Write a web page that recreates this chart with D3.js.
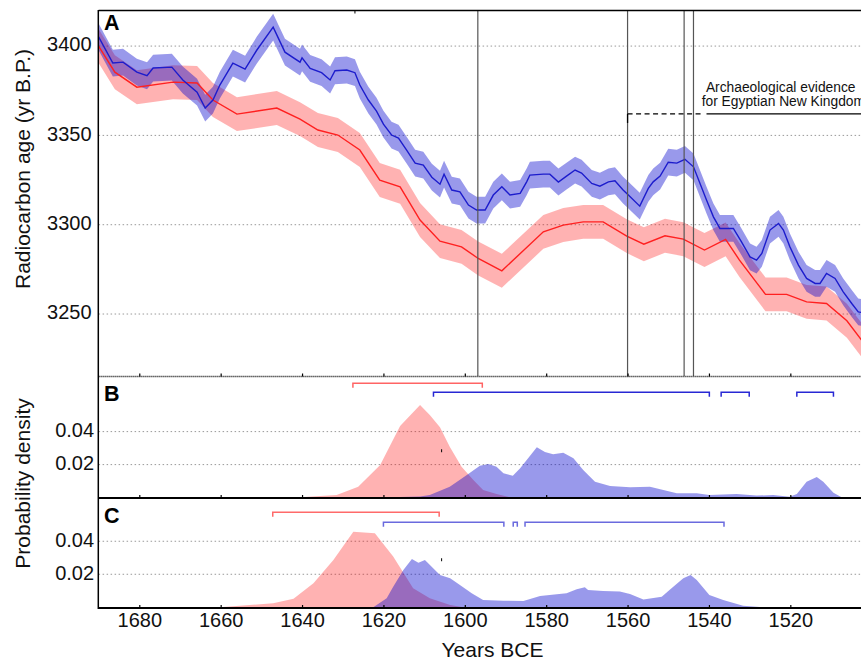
<!DOCTYPE html>
<html>
<head>
<meta charset="utf-8">
<script src="https://cdn.jsdelivr.net/npm/d3@7"></script>
<style>
body{margin:0;background:#fff;}
text{font-family:"Liberation Sans",Arial,sans-serif;fill:#111;}
</style>
</head>
<body>
<svg id="chart" width="861" height="659"></svg>
<script>

// ---- data (years BCE) ----
var blueAge = [[1690,3405.2],[1686.5,3390.5],[1684,3391],[1680.6,3385.4],[1678.1,3383.4],[1676.6,3387.7],
	[1672,3388.2],[1669.3,3381],[1665.8,3374.2],[1663.8,3365.3],[1661.9,3369.8],[1660.2,3378.2],[1657,3390.5],
	[1654,3387.1],[1651.1,3397.8],[1647.1,3410.6],[1644.2,3396.6],[1640.5,3391],[1640,3393.4],[1638,3387.5],
	[1635.2,3385.1],[1633.1,3381],[1631.9,3386.2],[1629,3386.6],[1627,3385.1],[1625.8,3378.2],[1623.7,3369.8],
	[1621.7,3363.6],[1620,3356.3],[1618,3350.2],[1616.3,3348.5],[1614.3,3341.8],[1612.2,3334.5],[1610.2,3333.4],
	[1608.1,3326.6],[1606.1,3322.7],[1605.1,3328.3],[1603.2,3319.4],[1601.2,3318.4],[1599.1,3311],[1597.1,3308.2],
	[1595,3308.2],[1593,3316.6],[1590.9,3321.2],[1588.9,3316.6],[1586.4,3317.5],[1584.8,3324],[1584,3327.8],
	[1580.7,3328.3],[1579.1,3328.3],[1577,3323.9],[1575,3327.2],[1572.9,3330.6],[1571.3,3328.9],[1568.8,3323.1],
	[1566.8,3321.6],[1564.7,3324],[1563.1,3324.6],[1561.1,3319.4],[1559.8,3316.6],[1557,3310.4],[1554.9,3320.3],
	[1553.7,3324],[1552,3327.2],[1550,3335],[1547.9,3334.5],[1545.9,3336.6],[1543.8,3332.4],[1540.6,3313.8],
	[1538.9,3304.4],[1537.3,3297.9],[1534,3297.9],[1532,3290.4],[1529.9,3282],[1528.3,3280.2],[1527,3283.9],
	[1525,3297],[1522.9,3300.7],[1521.7,3297],[1520.1,3287.6],[1518,3277.4],[1516,3269.9],[1513.9,3267.1],
	[1512.7,3267.1],[1511.1,3272.7],[1509,3269.9],[1507,3262.4],[1504.9,3255.9],[1503.3,3251.2],[1501.6,3250.5]];
var blueErr = 7.5;

var redAge = [[1690,3400],[1686,3385.4],[1680.6,3377],[1671.7,3379.8],[1665.8,3379.3],[1661.9,3369.8],
	[1656,3361.9],[1646.2,3365.3],[1640.5,3359.1],[1636.1,3353],[1631.2,3350.2],[1625.8,3341.8],[1620.9,3325],
	[1615.9,3321.2],[1611,3302.6],[1606.1,3290.8],[1600.8,3287.6],[1596.7,3281.1],[1590.9,3274.2],[1580.7,3296],
	[1575.8,3299.8],[1570.9,3301.6],[1566,3301.6],[1560.2,3293.6],[1556,3289.1],[1550.8,3293.8],[1546.3,3291.9],
	[1541.1,3285.8],[1535.9,3291.8],[1532.5,3280.2],[1526.1,3261],[1520.9,3261],[1516,3256.8],[1511.1,3255.9],
	[1506.1,3246.2],[1500,3228]];
var redErr = 9.5;

var densRedB = [[1657,0],[1640.5,0.0002],[1631.5,0.0016],[1626.2,0.0066],[1620.8,0.0198],[1615.9,0.0434],
	[1611,0.0561],[1608.6,0.0501],[1606.1,0.0426],[1603.7,0.0308],[1600.8,0.0187],[1597.9,0.0107],
	[1595.5,0.0046],[1592.2,0.0022],[1588.9,0.0002],[1586.4,0]];
var densBlueB = [[1620.8,0],[1615.9,0.0004],[1611,0.0007],[1608.6,0.0016],[1603.7,0.0066],[1599.5,0.0137],
	[1596.3,0.0193],[1594.2,0.0204],[1592.2,0.0187],[1590.5,0.0147],[1588.2,0.0133],[1586.4,0.0178],
	[1582.3,0.0305],[1580.3,0.0276],[1578.3,0.0262],[1575.8,0.0272],[1573.3,0.0238],[1570.9,0.0167],
	[1568,0.0096],[1564.3,0.007],[1559.4,0.0062],[1554.5,0.0066],[1547.9,0.0026],[1543,0.0026],[1539.9,0.0016],
	[1533.2,0.0022],[1528.3,0.0012],[1524.2,0.0016],[1520.2,0.0005],[1518.4,0.0022],[1516,0.0096],
	[1513.5,0.0125],[1511.9,0.0096],[1509.4,0.003],[1507.4,0.0002],[1505.3,0]];

var densRedC = [[1660.2,0],[1647.1,0.0024],[1642.1,0.0052],[1637.2,0.0145],[1632.3,0.0287],[1627.4,0.0458],
	[1622.1,0.0448],[1617.6,0.0307],[1612.7,0.0115],[1608.6,0.0055],[1603.6,0.0014],[1600.4,0]];
var densBlueC = [[1622.5,0],[1619.2,0.0055],[1617.6,0.0125],[1615.1,0.0226],[1613,0.0293],[1611.4,0.027],
	[1609.8,0.0287],[1606.1,0.0195],[1603.6,0.0176],[1601.2,0.0135],[1598.3,0.0085],[1595.5,0.0044],
	[1590.5,0.004],[1585.6,0.0038],[1581.5,0.0068],[1577.4,0.0079],[1575,0.0085],[1572.5,0.0109],
	[1570.5,0.0121],[1569.7,0.0105],[1566,0.0099],[1561.9,0.0095],[1559.4,0.0081],[1556.1,0.0048],
	[1551.6,0.0064],[1549.7,0.0105],[1546.3,0.0176],[1544.5,0.0196],[1543,0.0165],[1539.9,0.0075],
	[1536.5,0.0044],[1531.6,0.001],[1526.7,0]];

// highest-density ranges drawn as brackets above the densities
var rangesRedB = [[1627.5,1595.7]];
var rangesBlueB = [[1607.7,1539.9],[1537.0,1530.1],[1518.4,1509.4]];
var rangesRedC = [[1647.2,1606.3]];
var rangesBlueC = [[1620.0,1590.4],[1588.1,1587.1],[1585.2,1536.3]];

var eventYears = [1596.8, 1560, 1546.1, 1543.8];
var kingdomDashed = [1560, 1541.3];
var kingdomSolid = [1540.6, 1495];
var kingdomAge = 3362;
var kingdomLabel = ["Archaeological evidence", "for Egyptian New Kingdom"];

var xTicks = [1680,1660,1640,1620,1600,1580,1560,1540,1520];
var ageTicks = [3250,3300,3350,3400];
var densTicks = [0.02,0.04];

// ---- scales ----
var svg = d3.select("#chart");

var x = d3.scaleLinear().domain([1690,1500]).range([98.6,871.7]);
var yA = d3.scaleLinear().domain([3420.2,3215.3]).range([10,376]);
var yB = d3.scaleLinear().domain([0,0.0737]).range([497.6,376]);
var yC = d3.scaleLinear().domain([0,0.0662]).range([607.3,498]);

var pink = "#ff0000", lav = "#0000cc";

// grid lines
function grid(scale, vals){
	svg.append("g").selectAll("line").data(vals).enter().append("line")
		.attr("x1",98.6).attr("x2",872)
		.attr("y1",function(d){return scale(d)}).attr("y2",function(d){return scale(d)})
		.style("stroke","#999").style("stroke-width",1).style("stroke-dasharray","1.5,2.5");
}
grid(yA, ageTicks); grid(yB, densTicks); grid(yC, densTicks);

// ---- panel A ----
var band = function(err){
	return d3.area().x(function(d){return x(d[0])})
		.y0(function(d){return yA(d[1]-err)}).y1(function(d){return yA(d[1]+err)});
};
var line = d3.line().x(function(d){return x(d[0])}).y(function(d){return yA(d[1])});

svg.append("path").datum(redAge).attr("d",band(redErr)).style("fill",pink).style("fill-opacity",0.3);
svg.append("path").datum(blueAge).attr("d",band(blueErr)).style("fill",lav).style("fill-opacity",0.4);
svg.append("path").datum(redAge).attr("d",line).style("fill","none").style("stroke","#ff2020").style("stroke-width",1.4);
svg.append("path").datum(blueAge).attr("d",line).style("fill","none").style("stroke","#1c1ccc").style("stroke-width",1.4);

svg.append("g").selectAll("line").data(eventYears).enter().append("line")
	.attr("x1",function(d){return x(d)}).attr("x2",function(d){return x(d)})
	.attr("y1",10).attr("y2",376)
	.style("stroke","#555").style("stroke-width",1.2);

svg.append("line").attr("x1",x(kingdomDashed[0])).attr("x2",x(kingdomDashed[1]))
	.attr("y1",yA(kingdomAge)).attr("y2",yA(kingdomAge))
	.style("stroke","#000").style("stroke-width",1.3).style("stroke-dasharray","5,3.5");
svg.append("line").attr("x1",x(kingdomDashed[0])).attr("x2",x(kingdomDashed[0]))
	.attr("y1",yA(kingdomAge)).attr("y2",yA(kingdomAge)+9)
	.style("stroke","#000").style("stroke-width",1.3);
svg.append("line").attr("x1",x(kingdomSolid[0])).attr("x2",x(kingdomSolid[1]))
	.attr("y1",yA(kingdomAge)).attr("y2",yA(kingdomAge))
	.style("stroke","#000").style("stroke-width",1.3);

svg.append("text").attr("x",780.7).attr("y",92.3).attr("text-anchor","middle")
	.style("font-size","13.8px").text(kingdomLabel[0]);
svg.append("text").attr("x",701.7).attr("y",105.8)
	.style("font-size","13.8px").text(kingdomLabel[1]);

// ---- panels B and C ----
function dens(scale, data, col, op){
	svg.append("path").datum(data)
		.attr("d", d3.area().x(function(d){return x(d[0])}).y0(scale(0)).y1(function(d){return scale(d[1])}))
		.style("fill",col).style("fill-opacity",op);
}
dens(yB, densRedB, pink, 0.3); dens(yB, densBlueB, lav, 0.4);
dens(yC, densRedC, pink, 0.3); dens(yC, densBlueC, lav, 0.4);

function brackets(ranges, yy, col){
	svg.append("g").selectAll("path").data(ranges).enter().append("path")
		.attr("d",function(d){return "M"+x(d[0])+","+(yy+4.5)+"V"+yy+"H"+x(d[1])+"V"+(yy+4.5)})
		.style("fill","none").style("stroke",col).style("stroke-width",1.5);
}
brackets(rangesRedB, 383.3, "#ff6464");
brackets(rangesBlueB, 392.3, "#2828d4");
brackets(rangesRedC, 512.3, "#ff6a6a");
brackets(rangesBlueC, 522.3, "#6a6ade");

// ---- axes ----
function xaxis(yy, labels, dotted){
	var g = svg.append("g").attr("transform","translate(0,"+yy+")")
		.call(d3.axisBottom(x).tickValues(xTicks).tickSize(-3).tickPadding(5)
			.tickFormat(labels ? d3.format("d") : ""));
	g.select(".domain").remove();
	g.selectAll(".tick line").style("stroke","#000").style("stroke-width",1.2);
	g.selectAll("text").style("font-size","20px").style("fill","#111");
	g.append("line").attr("x1",98.6).attr("x2",872)
		.style("stroke","#000").style("stroke-width",dotted ? 1.3 : 1.8)
		.style("stroke-dasharray",dotted ? "1,1" : null);
}
xaxis(376.5, false, true);
xaxis(498, false, false);
xaxis(608, true, false);

function yaxis(scale, vals, fmt, pad){
	var g = svg.append("g").attr("transform","translate(98.6,0)")
		.call(d3.axisLeft(scale).tickValues(vals).tickSize(0).tickPadding(pad).tickFormat(fmt));
	g.select(".domain").remove();
	g.selectAll("text").style("font-size","20px").style("fill","#111").attr("dy","0.24em");
}
yaxis(yA, ageTicks, d3.format("d"), 7);
yaxis(yB, densTicks, d3.format(".2f"), 4.5);
yaxis(yC, densTicks, d3.format(".2f"), 4.5);

// frame
svg.append("line").attr("x1",98.6).attr("x2",872).attr("y1",10.5).attr("y2",10.5)
	.style("stroke","#000").style("stroke-width",1.5);
svg.append("line").attr("x1",x(1627)).attr("x2",x(1627)).attr("y1",10).attr("y2",13.5)
	.style("stroke","#000").style("stroke-width",1);
svg.append("line").attr("x1",98.3).attr("x2",98.3).attr("y1",10).attr("y2",609)
	.style("stroke","#000").style("stroke-width",1.5);

// small stray marks
svg.append("line").attr("x1",x(1605.7)).attr("x2",x(1605.7)).attr("y1",yB(0.0284)-1.5).attr("y2",yB(0.0284)+1.5)
	.style("stroke","#000").style("stroke-width",1);
svg.append("line").attr("x1",x(1605.7)).attr("x2",x(1605.7)).attr("y1",yC(0.0288)-1.5).attr("y2",yC(0.0288)+1.5)
	.style("stroke","#000").style("stroke-width",1);

// panel letters and titles
var letters = [["A",29.5],["B",400.5],["C",522.5]];
svg.selectAll(".letter").data(letters).enter().append("text")
	.attr("class","letter").attr("x",104).attr("y",function(d){return d[1]})
	.style("font-size","21.5px").style("font-weight","bold").style("fill","#000")
	.text(function(d){return d[0]});

svg.append("text").attr("transform","translate(30,169) rotate(-90)").attr("text-anchor","middle")
	.style("font-size","21px").text("Radiocarbon age (yr B.P.)");
svg.append("text").attr("transform","translate(30,483.5) rotate(-90)").attr("text-anchor","middle")
	.style("font-size","21px").text("Probability density");
svg.append("text").attr("x",492.5).attr("y",656.5).attr("text-anchor","middle")
	.style("font-size","21px").text("Years BCE");

</script>
</body>
</html>
